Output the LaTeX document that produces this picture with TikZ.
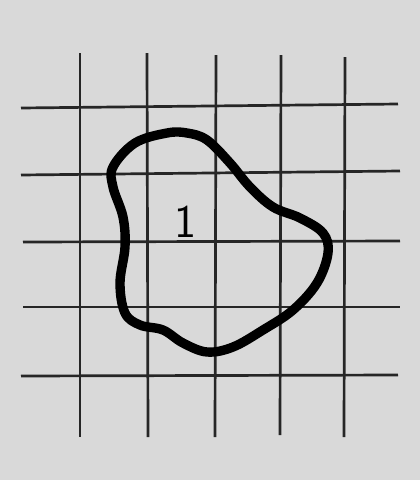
\documentclass[tikz,border=0pt]{standalone}
\usetikzlibrary{positioning}

\begin{document}
\begin{tikzpicture}[x=0.3mm,y=-0.3mm,
  gridline/.style={line width=2.3pt,black!85},
  blob/.style={line width=8pt,black,line join=round},
  lbl/.style={font=\sffamily\fontsize{40}{40}\selectfont}]
\fill[black!15] (0,0) rectangle (420,480);
\useasboundingbox (0,0) rectangle (420,480);
\foreach \xa/\ya/\xb/\yb in {80/53/80/437,147/53/148/437,216/55/215/437,281/55/280/435,345/57/344/437}
  \draw[gridline] (\xa,\ya)--(\xb,\yb);
\foreach \xa/\ya/\xb/\yb in {21/108/398/104,21/175/400/171,23/242/400/241,23/307/400/307,21/376/398/375}
  \draw[gridline] (\xa,\ya)--(\xb,\yb);
\draw[blob] plot[smooth cycle,tension=0.6] coordinates {(167,133) (187,133) (207,140) (230,163) (250,187) (273,207) (300,218) (323,233) (328,253) (317,283) (293,310) (263,330) (233,347) (207,352) (183,343) (163,330) (140,325) (125,313) (120,283) (125,247) (123,217) (113,187) (113,167) (135,143)};
\node[lbl] (one) at (186,222) {1};
\end{tikzpicture}
\end{document}
